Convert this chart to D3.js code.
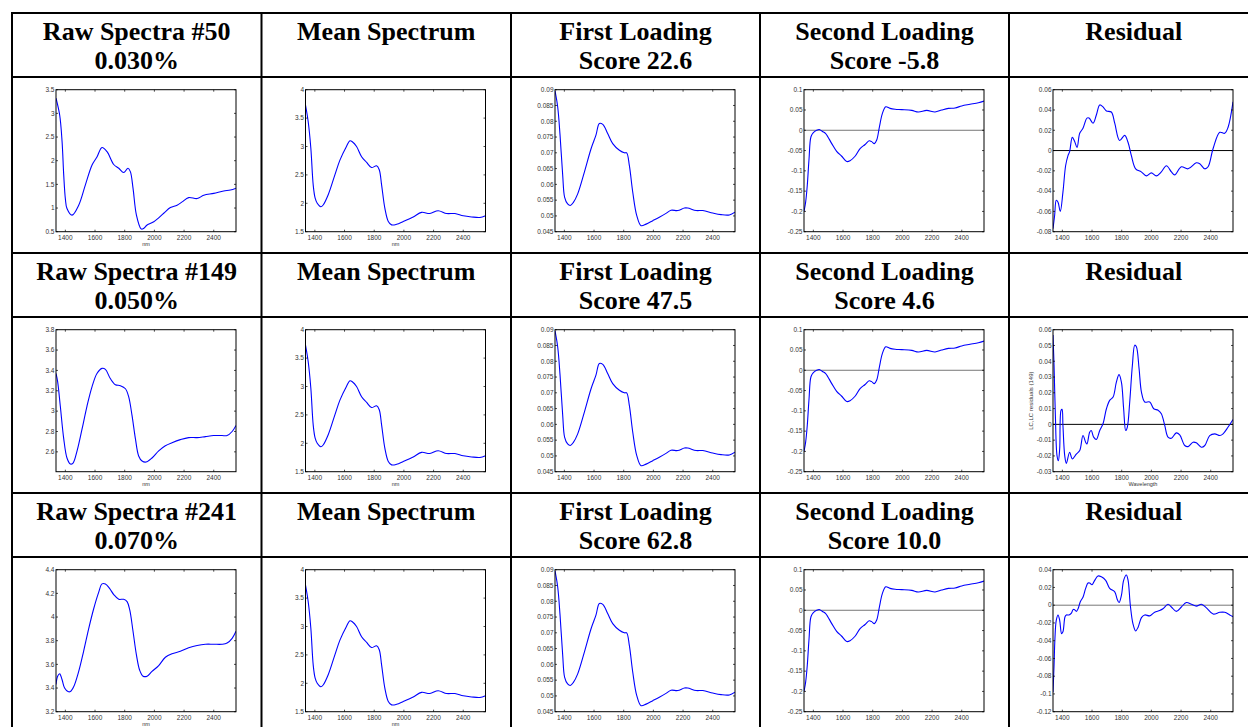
<!DOCTYPE html>
<html><head><meta charset="utf-8">
<script src="https://cdn.jsdelivr.net/npm/d3@7"></script>
<style>body{margin:0;background:#fff} svg{display:block}</style>
</head><body><svg id="c" width="1248" height="727"></svg>
<script>
// ---------- data ----------
const sampleIds = [50, 149, 241];
const concentrations = ["0.030%", "0.050%", "0.070%"];
const firstScores = ["22.6", "47.5", "62.8"];
const secondScores = ["-5.8", "4.6", "10.0"];
const xDomain = [1337, 2550];
const xTicks = [1400, 1600, 1800, 2000, 2200, 2400];

const raw50X = [1337,1362,1378,1389,1400,1411,1445,1490,1535,1580,1613,1647,1681,1726,1760,1793,1822,1838,1856,1879,1910,1924,1951,1996,2063,2108,2153,2187,2231,2288,2333,2400,2467,2512,2550];
const raw50Y = [3.32,2.96,2.40,1.70,1.20,0.99,0.85,1.06,1.49,1.91,2.08,2.28,2.19,1.92,1.84,1.75,1.84,1.77,1.42,0.85,0.56,0.56,0.64,0.71,0.89,1.01,1.06,1.13,1.22,1.20,1.27,1.31,1.36,1.38,1.42];

const raw149X = [1337,1348,1366,1389,1411,1434,1452,1479,1512,1546,1580,1613,1647,1670,1703,1737,1771,1805,1827,1849,1872,1894,1917,1944,1984,2029,2074,2119,2175,2231,2288,2344,2400,2456,2490,2524,2550];
const raw149Y = [3.37,3.29,3.05,2.73,2.54,2.48,2.49,2.61,2.82,3.05,3.24,3.37,3.42,3.41,3.32,3.26,3.25,3.22,3.14,2.96,2.73,2.56,2.51,2.50,2.54,2.61,2.66,2.69,2.72,2.74,2.74,2.75,2.76,2.76,2.76,2.80,2.86];

const raw241X = [1337,1348,1362,1378,1395,1418,1434,1456,1490,1523,1557,1591,1625,1647,1670,1699,1726,1760,1793,1816,1834,1856,1879,1901,1924,1951,1984,2029,2074,2119,2175,2231,2288,2344,2400,2456,2490,2524,2550];
const raw241Y = [3.43,3.50,3.52,3.47,3.40,3.37,3.37,3.41,3.54,3.71,3.90,4.07,4.21,4.28,4.28,4.24,4.19,4.15,4.15,4.13,4.06,3.88,3.68,3.55,3.50,3.50,3.54,3.59,3.66,3.69,3.71,3.74,3.76,3.77,3.77,3.77,3.78,3.82,3.88];

const meanX = [1337,1355,1373,1389,1402,1416,1440,1456,1490,1535,1569,1613,1636,1654,1681,1715,1749,1782,1816,1834,1850,1872,1895,1917,1951,1996,2063,2119,2175,2231,2288,2344,2400,2456,2512,2550];
const meanY = [3.73,3.44,2.97,2.32,2.09,2.00,1.94,1.97,2.15,2.50,2.76,3.00,3.10,3.08,3.00,2.82,2.72,2.63,2.66,2.59,2.32,1.91,1.68,1.62,1.63,1.68,1.76,1.84,1.82,1.87,1.82,1.82,1.78,1.76,1.75,1.78];

const load1X = [1337,1355,1371,1389,1402,1422,1440,1461,1490,1535,1580,1613,1636,1659,1692,1726,1771,1805,1820,1838,1861,1888,1917,1951,1996,2040,2085,2119,2164,2209,2231,2288,2333,2400,2456,2512,2550];
const load1Y = [0.0896,0.0846,0.0756,0.0628,0.0559,0.0538,0.0533,0.0543,0.0570,0.0639,0.0713,0.0756,0.0793,0.0790,0.0761,0.0729,0.0708,0.0700,0.0700,0.0660,0.0575,0.0501,0.0469,0.0474,0.0485,0.0496,0.0508,0.0518,0.0517,0.0525,0.0525,0.0517,0.0517,0.0509,0.0504,0.0503,0.0512];

const load2X = [1337,1348,1359,1371,1384,1400,1422,1440,1461,1483,1524,1557,1591,1625,1647,1681,1715,1749,1776,1793,1811,1827,1845,1865,1888,1917,1951,1996,2063,2108,2164,2220,2265,2310,2355,2400,2456,2512,2550];
const load2Y = [-0.200,-0.177,-0.136,-0.070,-0.016,-0.006,0.000,0.002,-0.003,-0.008,-0.033,-0.052,-0.064,-0.077,-0.075,-0.064,-0.045,-0.035,-0.026,-0.028,-0.033,-0.024,0.008,0.041,0.058,0.054,0.052,0.051,0.049,0.045,0.049,0.045,0.050,0.054,0.055,0.060,0.064,0.068,0.072];

const res50X = [1337,1348,1359,1371,1386,1404,1422,1438,1449,1467,1483,1499,1517,1539,1566,1580,1607,1629,1652,1674,1697,1730,1753,1786,1820,1843,1865,1894,1932,1966,2000,2033,2067,2101,2135,2157,2202,2247,2303,2326,2359,2382,2416,2461,2494,2517,2550];
const res50Y = [-0.077,-0.064,-0.049,-0.051,-0.060,-0.041,-0.015,-0.005,-0.001,0.013,0.009,0.003,0.017,0.022,0.032,0.032,0.027,0.035,0.045,0.043,0.039,0.038,0.027,0.010,0.015,0.008,-0.005,-0.018,-0.021,-0.025,-0.022,-0.025,-0.021,-0.015,-0.021,-0.024,-0.016,-0.018,-0.012,-0.013,-0.018,-0.016,0.002,0.018,0.017,0.023,0.048];

const res149X = [1337,1344,1353,1364,1373,1382,1391,1398,1404,1416,1427,1449,1467,1494,1517,1539,1557,1566,1584,1595,1611,1629,1652,1674,1697,1719,1742,1764,1782,1798,1813,1827,1838,1854,1872,1888,1899,1917,1933,1955,1989,2016,2045,2067,2090,2112,2135,2168,2191,2225,2247,2281,2303,2337,2360,2393,2427,2461,2483,2517,2550];
const res149Y = [0.0566,0.0375,0.0057,-0.0198,-0.0230,-0.0156,0.0088,0.0095,-0.0007,-0.0198,-0.0247,-0.0177,-0.0219,-0.0188,-0.0166,-0.0071,-0.0113,-0.0124,-0.0050,-0.0039,-0.0081,-0.0096,-0.0039,0.0004,0.0099,0.0152,0.0173,0.0268,0.0315,0.0268,0.0099,-0.0039,-0.0017,0.0142,0.0375,0.0502,0.0492,0.0354,0.0205,0.0142,0.0142,0.0099,0.0089,0.0067,-0.0007,-0.0081,-0.0088,-0.0054,-0.0067,-0.0134,-0.0141,-0.0113,-0.0117,-0.0145,-0.0134,-0.0071,-0.0060,-0.0071,-0.0060,-0.0017,0.0031];

const res241X = [1337,1344,1350,1359,1371,1382,1395,1404,1418,1427,1445,1461,1472,1483,1494,1506,1521,1539,1557,1573,1584,1600,1618,1640,1663,1692,1719,1753,1769,1782,1798,1813,1831,1843,1858,1876,1894,1910,1933,1955,1989,2022,2056,2078,2112,2135,2168,2202,2236,2270,2303,2337,2371,2416,2461,2494,2528,2550];
const res241Y = [-0.098,-0.068,-0.038,-0.017,-0.011,-0.017,-0.032,-0.030,-0.013,-0.011,-0.011,-0.009,-0.005,-0.005,-0.007,-0.004,0.004,0.009,0.019,0.025,0.025,0.023,0.028,0.033,0.032,0.028,0.019,0.015,0.007,0.003,0.011,0.028,0.034,0.028,0.000,-0.021,-0.029,-0.025,-0.014,-0.011,-0.012,-0.008,-0.006,-0.004,0.001,-0.002,-0.007,-0.002,0.003,0.001,-0.001,0.001,-0.003,-0.010,-0.008,-0.008,-0.011,-0.013];

// y axis tick sets
const rawTicks = [[0.5,1,1.5,2,2.5,3,3.5],[2.6,2.8,3,3.2,3.4,3.6,3.8],[3.2,3.4,3.6,3.8,4,4.2,4.4]];
const rawDomains = [[0.5,3.5],[2.405,3.8],[3.2,4.4]];
const meanTicks = [1.5,2,2.5,3,3.5,4];
const load1Ticks = [0.045,0.05,0.055,0.06,0.065,0.07,0.075,0.08,0.085,0.09];
const load2Ticks = [-0.25,-0.2,-0.15,-0.1,-0.05,0,0.05,0.1];
const resTicks = [[-0.08,-0.06,-0.04,-0.02,0,0.02,0.04,0.06],[-0.03,-0.02,-0.01,0,0.01,0.02,0.03,0.04,0.05,0.06],[-0.12,-0.1,-0.08,-0.06,-0.04,-0.02,0,0.02,0.04]];
const resDomains = [[-0.08,0.06],[-0.03,0.06],[-0.12,0.04]];

// ---------- layout ----------
const svg = d3.select("#c");
svg.append("rect").attr("width",1248).attr("height",727).attr("fill","#fff");
const colX = [12, 261.5, 511, 760, 1009, 1258.5];
const headTop = [13, 253, 493];
const headH = 64;
const SANS = '"Liberation Sans", Arial, sans-serif';
const SERIF = '"Liberation Serif", "Times New Roman", serif';

const rawXs = [raw50X, raw149X, raw241X], rawYs = [raw50Y, raw149Y, raw241Y];
const resXs = [res50X, res149X, res241X], resYs = [res50Y, res149Y, res241Y];

let clipId = 0;
function panel(cx, top, cfg) {
  const L = cx + 44, T = top + 12.7, W = 180, H = 142;
  const x = d3.scaleLinear().domain(xDomain).range([L, L + W]);
  const y = d3.scaleLinear().domain(cfg.domain).range([T + H, T]);
  const g = svg.append("g");
  const id = "clip" + (clipId++);
  g.append("clipPath").attr("id", id).append("rect").attr("x", L).attr("y", T).attr("width", W).attr("height", H);
  if (cfg.zero) {
    g.append("line").attr("x1", L).attr("x2", L + W).attr("y1", y(0)).attr("y2", y(0))
      .attr("stroke", cfg.zero).attr("stroke-width", 1);
  }
  const pts = cfg.xs.map((v, i) => [v, cfg.ys[i]]);
  g.append("path").datum(pts).attr("clip-path", `url(#${id})`)
    .attr("d", d3.line().x(d => x(d[0])).y(d => y(d[1])).curve(d3.curveCatmullRom.alpha(0.5)))
    .attr("fill", "none").attr("stroke", "#0000ff").attr("stroke-width", 1.1);
  const tk = g.append("g").attr("stroke", "#000").attr("stroke-width", 0.7);
  xTicks.forEach(t => {
    tk.append("line").attr("x1", x(t)).attr("x2", x(t)).attr("y1", T + H).attr("y2", T + H - 2);
    tk.append("line").attr("x1", x(t)).attr("x2", x(t)).attr("y1", T).attr("y2", T + 2);
  });
  cfg.ticks.forEach(t => {
    tk.append("line").attr("x1", L).attr("x2", L + 2).attr("y1", y(t)).attr("y2", y(t));
    tk.append("line").attr("x1", L + W).attr("x2", L + W - 2).attr("y1", y(t)).attr("y2", y(t));
  });
  g.append("rect").attr("x", L).attr("y", T).attr("width", W).attr("height", H)
    .attr("fill", "none").attr("stroke", "#000").attr("stroke-width", 1);
  const lab = g.append("g").style("font-family", SANS).style("font-size", "6.5px").attr("fill", "#333");
  xTicks.forEach(t => lab.append("text").attr("x", x(t)).attr("y", T + H + 8).attr("text-anchor", "middle").text(String(t)));
  cfg.ticks.forEach(t => lab.append("text").attr("x", L - 1.5).attr("y", y(t)).attr("dy", "0.35em").attr("text-anchor", "end").text(String(t)));
  if (cfg.xlabel) lab.append("text").attr("x", L + W / 2).attr("y", T + H + 14.5).attr("text-anchor", "middle").style("font-size", "5.5px").text(cfg.xlabel);
  if (cfg.ylabel) lab.append("text").attr("transform", `translate(${L - 20},${T + H / 2}) rotate(-90)`).attr("text-anchor", "middle").style("font-size", "6px").text(cfg.ylabel);
}

for (let r = 0; r < 3; r++) {
  const top = headTop[r];
  const heads = [
    [`Raw Spectra #${sampleIds[r]}`, concentrations[r]],
    ["Mean Spectrum"],
    ["First Loading", `Score ${firstScores[r]}`],
    ["Second Loading", `Score ${secondScores[r]}`],
    ["Residual"]
  ];
  heads.forEach((lines, c) => {
    const cxm = (colX[c] + colX[c + 1]) / 2;
    lines.forEach((s, i) => {
      svg.append("text").attr("x", cxm).attr("y", top + 27 + i * 29)
        .attr("text-anchor", "middle").attr("fill", "#000")
        .style("font-family", SERIF).style("font-weight", "bold").style("font-size", "26px")
        .text(s);
    });
  });
  const ct = top + headH;
  panel(colX[0], ct, {xs: rawXs[r], ys: rawYs[r], domain: rawDomains[r], ticks: rawTicks[r], xlabel: "nm"});
  panel(colX[1], ct, {xs: meanX, ys: meanY, domain: [1.5, 4], ticks: meanTicks, xlabel: "nm"});
  panel(colX[2], ct, {xs: load1X, ys: load1Y, domain: [0.045, 0.09], ticks: load1Ticks});
  panel(colX[3], ct, {xs: load2X, ys: load2Y, domain: [-0.25, 0.1], ticks: load2Ticks, zero: "#777"});
  panel(colX[4], ct, {xs: resXs[r], ys: resYs[r], domain: resDomains[r], ticks: resTicks[r],
    zero: r === 2 ? "#777" : "#000",
    xlabel: r === 1 ? "Wavelength" : null, ylabel: r === 1 ? "LC,LC residuals (149)" : null});
}

const grid = svg.append("g").attr("stroke", "#000").attr("stroke-width", 2);
[13, 77, 253, 317, 493, 557].forEach(yy => grid.append("line").attr("x1", 11).attr("x2", 1248).attr("y1", yy).attr("y2", yy));
colX.slice(0, 5).forEach(xx => grid.append("line").attr("x1", xx).attr("x2", xx).attr("y1", 12).attr("y2", 727));
</script></body></html>
